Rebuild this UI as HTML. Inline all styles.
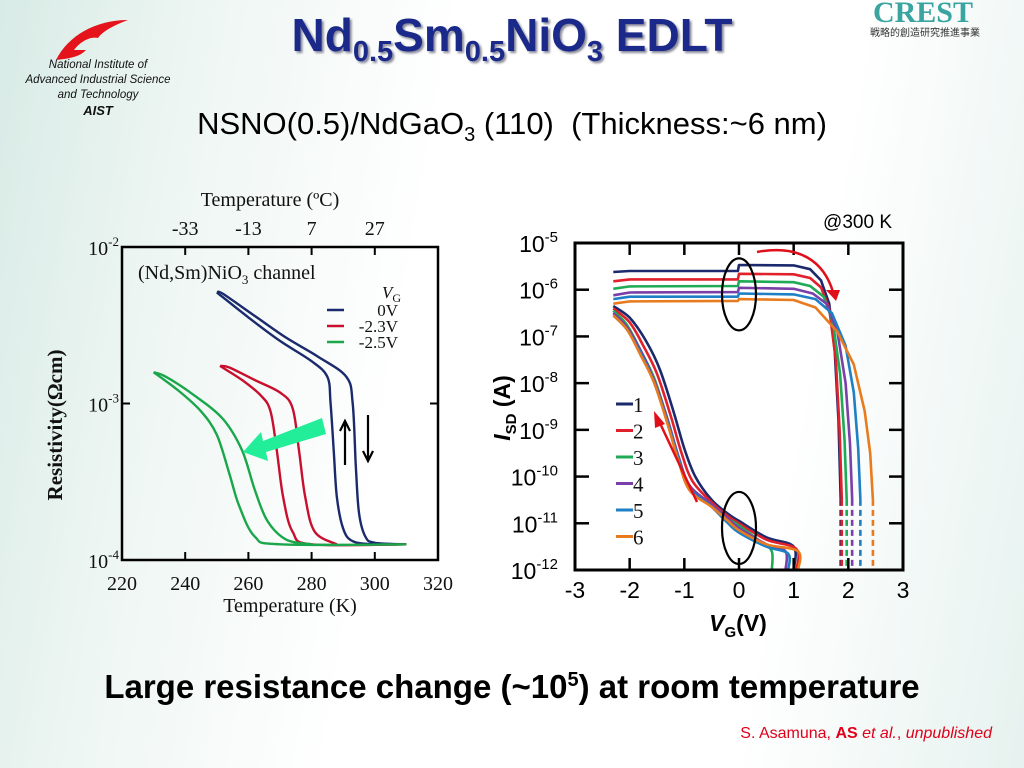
<!DOCTYPE html>
<html><head><meta charset="utf-8">
<style>
html,body{margin:0;padding:0;width:1024px;height:768px;overflow:hidden;}
body{background:linear-gradient(100deg,#d8ebe6 0%,#eef6f3 18%,#ffffff 40%,#ffffff 75%,#e6f2ef 100%);font-family:"Liberation Sans",sans-serif;position:relative;}
.abs{position:absolute;margin:0;}
</style></head>
<body>

<svg class="abs" style="left:50px;top:18px" width="80" height="44">
<path d="M6 42 C18 18 45 2 78 2 C62 8 52 14 48 20 C40 18 30 24 24 32 L36 32 C30 38 24 40 6 42Z" fill="#e5141c"/>
</svg>
<div class="abs" style="left:8px;top:58px;width:180px;text-align:center;font-style:italic;font-size:11.5px;line-height:15px;color:#111">National Institute of<br>Advanced Industrial Science<br>and Technology<br><b style="font-size:13px">AIST</b></div>

<div class="abs" style="left:828px;top:-2px;width:190px;font-family:'Liberation Serif',serif;font-weight:bold;font-size:30px;line-height:30px;color:#3aa5a0;text-align:center">CREST</div>
<div class="abs" style="left:830px;top:24px;width:190px;font-size:10px;color:#333;text-align:center;font-family:'Liberation Sans','Noto Sans CJK JP',sans-serif">戦略的創造研究推進事業</div>

<div class="abs" style="left:180px;top:8px;width:664px;text-align:center;font-weight:bold;font-size:46px;color:#1b2a8a;text-shadow:2px 2px 2px #889">Nd<sub style="font-size:29px">0.5</sub>Sm<sub style="font-size:29px">0.5</sub>NiO<sub style="font-size:29px">3</sub> EDLT</div>
<div class="abs" style="left:100px;top:106px;width:824px;text-align:center;font-size:31px;color:#000">NSNO(0.5)/NdGaO<sub style="font-size:20px">3</sub> (110)&nbsp; (Thickness:~6 nm)</div>

<div class="abs" style="left:20px;top:668px;width:984px;text-align:center;font-weight:bold;font-size:33px;color:#000">Large resistance change (~10<sup style="font-size:20px">5</sup>) at room temperature</div>
<div class="abs" style="left:660px;top:725px;width:332px;text-align:right;font-size:16px;color:#e0001a">S. Asamuna, <b>AS</b> <i>et al.</i>, <i>unpublished</i></div>

<svg id="chart" class="abs" style="left:0;top:0" width="1024" height="768"></svg>

<script>
// ---- Left chart data: resistivity vs temperature (log10 rho) ----
const leftXTicks = [220,240,260,280,300,320];
const leftTopTicks = [-33,-13,7,27];
const leftYTicks = [-2,-3,-4];
const leftSeriesNames = ["0V","-2.3V","-2.5V"];
const leftColors = ["#1a2a6c","#c8102e","#1aa64a"];
const rho0V_a = [[250,-2.29],[260,-2.45],[270,-2.6],[280,-2.73],[285,-2.83],[286,-3.0],[287,-3.3],[288,-3.6],[290,-3.8],[293,-3.88],[300,-3.9],[310,-3.9]];
const rho0V_b = [[250,-2.29],[252,-2.3],[262,-2.44],[272,-2.58],[282,-2.7],[291,-2.83],[293,-3.0],[294,-3.4],[295,-3.7],[297,-3.85],[300,-3.89],[310,-3.9]];
const rhoM23_a = [[251,-2.76],[258,-2.85],[264,-2.95],[267,-3.05],[269,-3.3],[271,-3.6],[274,-3.82],[280,-3.9],[310,-3.9]];
const rhoM23_b = [[251,-2.76],[254,-2.77],[262,-2.85],[270,-2.93],[274,-3.03],[276,-3.3],[278,-3.6],[281,-3.82],[288,-3.9]];
const rhoM25_a = [[230,-2.8],[238,-2.92],[245,-3.05],[250,-3.2],[254,-3.45],[257,-3.65],[262,-3.85],[270,-3.9],[310,-3.9]];
const rhoM25_b = [[230,-2.8],[234,-2.83],[243,-2.95],[252,-3.1],[258,-3.3],[262,-3.55],[266,-3.75],[272,-3.87],[280,-3.9]];
const leftSeries = [[rho0V_a,rho0V_b],[rhoM23_a,rhoM23_b],[rhoM25_a,rhoM25_b]];

// ---- Right chart data: I_SD vs V_G (log10 I) ----
const rightXTicks = [-3,-2,-1,0,1,2,3];
const rightYTicks = [-5,-6,-7,-8,-9,-10,-11,-12];
const rightNames = ["1","2","3","4","5","6"];
const rightColors = ["#1a2a6c","#e0202a","#1faa55","#7a3fa8","#1f7fc4","#e87b1e"];
const up1 = [[-2.3,-5.62],[-2.0,-5.6],[-0.02,-5.6],[0,-5.47],[1.0,-5.48],[1.3,-5.56],[1.5,-5.8],[1.65,-6.3],[1.75,-7.3],[1.82,-8.8],[1.86,-10.5]];
const up2 = [[-2.3,-5.82],[-2.0,-5.78],[-0.02,-5.78],[0,-5.66],[1.0,-5.67],[1.3,-5.75],[1.5,-5.95],[1.65,-6.4],[1.77,-7.5],[1.84,-9],[1.88,-10.5]];
const up3 = [[-2.3,-5.98],[-2.0,-5.93],[-0.02,-5.92],[0,-5.82],[1.0,-5.84],[1.3,-5.92],[1.55,-6.15],[1.72,-6.7],[1.85,-7.8],[1.93,-9.2],[1.97,-10.5]];
const up4 = [[-2.3,-6.12],[-2.0,-6.06],[-0.02,-6.05],[0,-5.96],[1.0,-5.98],[1.35,-6.08],[1.6,-6.3],[1.8,-6.9],[1.95,-8.0],[2.03,-9.3],[2.07,-10.5]];
const up5 = [[-2.3,-6.2],[-2.0,-6.15],[-0.02,-6.15],[0,-6.08],[1.0,-6.1],[1.4,-6.2],[1.7,-6.5],[1.95,-7.2],[2.1,-8.2],[2.18,-9.4],[2.22,-10.5]];
const up6 = [[-2.3,-6.3],[-2.0,-6.25],[-0.02,-6.24],[0,-6.2],[1.0,-6.22],[1.4,-6.38],[1.8,-6.9],[2.1,-7.6],[2.3,-8.6],[2.4,-9.5],[2.45,-10.5]];
const low1 = [[-2.3,-6.35],[-2.0,-6.6],[-1.7,-7.1],[-1.45,-7.7],[-1.2,-8.6],[-1.0,-9.4],[-0.8,-10.0],[-0.5,-10.5],[-0.2,-10.8],[0,-10.95],[0.5,-11.3],[1.0,-11.5],[1.0,-12]];
const low2 = [[-2.3,-6.4],[-2.0,-6.7],[-1.75,-7.2],[-1.5,-7.8],[-1.25,-8.7],[-1.05,-9.5],[-0.85,-10.1],[-0.5,-10.55],[-0.2,-10.85],[0,-11.0],[0.5,-11.35],[1.05,-11.55],[1.05,-12]];
const low3 = [[-2.3,-6.45],[-2.05,-6.75],[-1.8,-7.3],[-1.55,-7.9],[-1.3,-8.8],[-1.1,-9.6],[-0.9,-10.2],[-0.5,-10.6],[-0.2,-10.9],[0,-11.05],[0.4,-11.4],[0.6,-11.6],[0.6,-12]];
const low4 = [[-2.3,-6.5],[-2.05,-6.8],[-1.8,-7.3],[-1.55,-7.95],[-1.3,-8.8],[-1.1,-9.6],[-0.9,-10.2],[-0.5,-10.6],[-0.2,-10.9],[0,-11.1],[0.5,-11.45],[0.85,-11.6],[0.85,-12]];
const low5 = [[-2.3,-6.55],[-2.05,-6.85],[-1.8,-7.35],[-1.55,-8.0],[-1.3,-8.85],[-1.1,-9.65],[-0.9,-10.25],[-0.5,-10.65],[-0.2,-11.0],[0,-11.2],[0.5,-11.5],[0.9,-11.65],[0.9,-12]];
const low6 = [[-2.3,-6.55],[-2.05,-6.85],[-1.8,-7.4],[-1.55,-8.0],[-1.3,-8.9],[-1.1,-9.7],[-0.9,-10.3],[-0.5,-10.65],[-0.2,-10.95],[0,-11.15],[0.5,-11.45],[1.08,-11.6],[1.08,-12]];
const dashEnds = [1.86,1.88,1.97,2.07,2.22,2.45];
const rightUp = [up1,up2,up3,up4,up5,up6];
const rightLow = [low1,low2,low3,low4,low5,low6];

const NS="http://www.w3.org/2000/svg";
const svg=document.getElementById('chart');
function mk(tag,attrs,parent){const e=document.createElementNS(NS,tag);for(const k in attrs)e.setAttribute(k,attrs[k]);(parent||svg).appendChild(e);return e;}
function txt(x,y,s,attrs,parent){const t=mk('text',Object.assign({x:x,y:y},attrs),parent);t.innerHTML=s;return t;}
// smooth path (Catmull-Rom) through screen points
function smooth(P){
  let d='M'+P[0][0].toFixed(1)+','+P[0][1].toFixed(1);
  for(let i=0;i<P.length-1;i++){
    const p0=P[Math.max(i-1,0)],p1=P[i],p2=P[i+1],p3=P[Math.min(i+2,P.length-1)];
    const c1=[p1[0]+(p2[0]-p0[0])/6,p1[1]+(p2[1]-p0[1])/6];
    const c2=[p2[0]-(p3[0]-p1[0])/6,p2[1]-(p3[1]-p1[1])/6];
    d+=' C'+c1[0].toFixed(1)+','+c1[1].toFixed(1)+' '+c2[0].toFixed(1)+','+c2[1].toFixed(1)+' '+p2[0].toFixed(1)+','+p2[1].toFixed(1);
  }
  return d;
}

// ---------- LEFT CHART ----------
const L={x0:122,x1:438,y0:247,y1:560};
const lx=T=>L.x0+(T-220)/100*(L.x1-L.x0);
const ly=v=>L.y0+(-2-v)/2*(L.y1-L.y0);
const gL=mk('g',{});


const serif={'font-family':'Liberation Serif, serif','font-size':'20','fill':'#111'};
leftSeries.forEach((pair,i)=>{pair.forEach((pts,j)=>{
  const p=mk('path',{d:smooth(pts.map(q=>[lx(q[0]),ly(q[1])])),fill:'none',stroke:leftColors[i],'stroke-width':'2.4','stroke-linejoin':'round'},gL);
  
  
});});
const frameL=mk('rect',{x:L.x0,y:L.y0,width:L.x1-L.x0,height:L.y1-L.y0,fill:'none',stroke:'#000','stroke-width':'2.5'},gL);


leftXTicks.forEach(T=>{
  mk('line',{x1:lx(T),x2:lx(T),y1:L.y1,y2:L.y1-8,stroke:'#000','stroke-width':'2'},gL);
  const t=txt(lx(T),590,T,Object.assign({'text-anchor':'middle'},serif),gL);
  
  
});
leftTopTicks.forEach(C=>{
  const T=C+273;
  mk('line',{x1:lx(T),x2:lx(T),y1:L.y0,y2:L.y0+8,stroke:'#000','stroke-width':'2'},gL);
  const t=txt(lx(T),235,C,Object.assign({'text-anchor':'middle'},serif),gL);
  
  
});
leftYTicks.forEach(v=>{
  mk('line',{x1:L.x0,x2:L.x0+8,y1:ly(v),y2:ly(v),stroke:'#000','stroke-width':'2'},gL);
  mk('line',{x1:L.x1,x2:L.x1-8,y1:ly(v),y2:ly(v),stroke:'#000','stroke-width':'2'},gL);
  const t=txt(L.x0-3,ly(v)+8,'10<tspan dy="-9" font-size="13">'+v+'</tspan>',Object.assign({'text-anchor':'end'},serif),gL);
  
  
});
let t;
t=txt(290,612,'Temperature (K)',Object.assign({'text-anchor':'middle'},serif),gL);

t=txt(270,206,'Temperature (ºC)',Object.assign({'text-anchor':'middle'},serif),gL);

t=txt(0,0,'Resistivity(Ωcm)',{'font-family':'Liberation Serif, serif','font-size':'21','font-weight':'bold','fill':'#111','text-anchor':'middle',transform:'translate(62,425) rotate(-90)'},gL);

t=txt(138,279,'(Nd,Sm)NiO<tspan dy="5" font-size="13">3</tspan><tspan dy="-5"> channel</tspan>',serif,gL);

t=txt(382,298,'<tspan font-style="italic">V</tspan><tspan dy="4" font-size="12">G</tspan>',Object.assign({},serif,{'font-size':'17'}),gL);

leftSeriesNames.forEach((n,i)=>{
  const y=310+i*16;
  const g=mk('g',{},gL);
  
  
  mk('line',{x1:327,x2:344,y1:y,y2:y,stroke:leftColors[i],'stroke-width':'2.5'},g);
  txt(398,y+6,n,Object.assign({},serif,{'font-size':'17','text-anchor':'end'}),g);
});
const ga=mk('polygon',{points:'322,418 326,434 266,452 268,461 243,452 261,432 263,441',fill:'#22ee99'},gL);

const ua=mk('path',{d:'M345,465 L345,421 M340,431 L345,421 L350,431',stroke:'#000','stroke-width':'2.2',fill:'none'},gL);

const da=mk('path',{d:'M368,415 L368,461 M363,451 L368,461 L373,451',stroke:'#000','stroke-width':'2.2',fill:'none'},gL);


// ---------- RIGHT CHART ----------
const R={x0:575,x1:903,y0:243,y1:570};
const rx=v=>R.x0+(v+3)/6*(R.x1-R.x0);
const ry=v=>R.y0+(-5-v)/7*(R.y1-R.y0);
const gR=mk('g',{});


const sans={'font-family':'Liberation Sans, sans-serif','font-size':'23','fill':'#000'};
rightUp.forEach((pts,i)=>{
  const low=rightLow[i];
  let p=mk('path',{d:smooth(low.map(q=>[rx(q[0]),ry(q[1])])),fill:'none',stroke:rightColors[i],'stroke-width':'2.6','stroke-linejoin':'round'},gR);
  
  
  p=mk('path',{d:'M'+pts.map(q=>rx(q[0]).toFixed(1)+','+ry(q[1]).toFixed(1)).join(' L'),fill:'none',stroke:rightColors[i],'stroke-width':'2.6','stroke-linejoin':'round'},gR);
  
  
  p=mk('line',{x1:rx(dashEnds[i]),x2:rx(dashEnds[i]),y1:ry(-10.5),y2:ry(-12),stroke:rightColors[i],'stroke-width':'2.6','stroke-dasharray':'6,4'},gR);
  
  
});
const frameR=mk('rect',{x:R.x0,y:R.y0,width:R.x1-R.x0,height:R.y1-R.y0,fill:'none',stroke:'#000','stroke-width':'3'},gR);


rightXTicks.forEach(v=>{
  mk('line',{x1:rx(v),x2:rx(v),y1:R.y1,y2:R.y1-12,stroke:'#000','stroke-width':'2.5'},gR);
  mk('line',{x1:rx(v),x2:rx(v),y1:R.y0,y2:R.y0+12,stroke:'#000','stroke-width':'2.5'},gR);
  const t=txt(rx(v),598,v,Object.assign({'text-anchor':'middle'},sans),gR);
  
  
});
rightYTicks.forEach(v=>{
  mk('line',{x1:R.x0,x2:R.x0+14,y1:ry(v),y2:ry(v),stroke:'#000','stroke-width':'2.5'},gR);
  mk('line',{x1:R.x1,x2:R.x1-14,y1:ry(v),y2:ry(v),stroke:'#000','stroke-width':'2.5'},gR);
  const t=txt(558,ry(v)+9,'10<tspan dy="-10" font-size="15">'+v+'</tspan>',Object.assign({'text-anchor':'end'},sans),gR);
  
  
});
t=txt(738,631,'<tspan font-style="italic">V</tspan><tspan dy="6" font-size="15">G</tspan><tspan dy="-6">(V)</tspan>',Object.assign({},sans,{'font-weight':'bold','text-anchor':'middle'}),gR);

t=txt(0,0,'<tspan font-style="italic">I</tspan><tspan dy="6" font-size="15">SD</tspan><tspan dy="-6"> (A)</tspan>',Object.assign({},sans,{'font-weight':'bold','text-anchor':'middle',transform:'translate(510,408) rotate(-90)'}),gR);

t=txt(892,228,'@300 K',Object.assign({},sans,{'font-size':'19','text-anchor':'end'}),gR);

rightNames.forEach((n,i)=>{
  const y=404+i*26.5;
  const g=mk('g',{},gR);
  
  
  mk('line',{x1:616,x2:633,y1:y,y2:y,stroke:rightColors[i],'stroke-width':'3'},g);
  txt(633,y+8,n,{'font-family':'Liberation Serif, serif','font-size':'21','fill':'#111'},g);
});
let e=mk('ellipse',{cx:rx(0),cy:ry(-6.1),rx:17,ry:36,fill:'none',stroke:'#000','stroke-width':'2.2'},gR);

e=mk('ellipse',{cx:rx(0),cy:ry(-11.1),rx:17,ry:36,fill:'none',stroke:'#000','stroke-width':'2.2'},gR);

e=mk('path',{d:'M757,252 C800,244 824,262 833,292',stroke:'#e0101a','stroke-width':'2.5',fill:'none'},gR);

mk('polygon',{points:'826,290 840,290 836,301',fill:'#e0101a'},gR);
e=mk('line',{x1:697,y1:502,x2:659,y2:421,stroke:'#e0101a','stroke-width':'2.5'},gR);

mk('polygon',{points:'654,411 665,424 655,428',fill:'#e0101a'},gR);
</script>
</body></html>
